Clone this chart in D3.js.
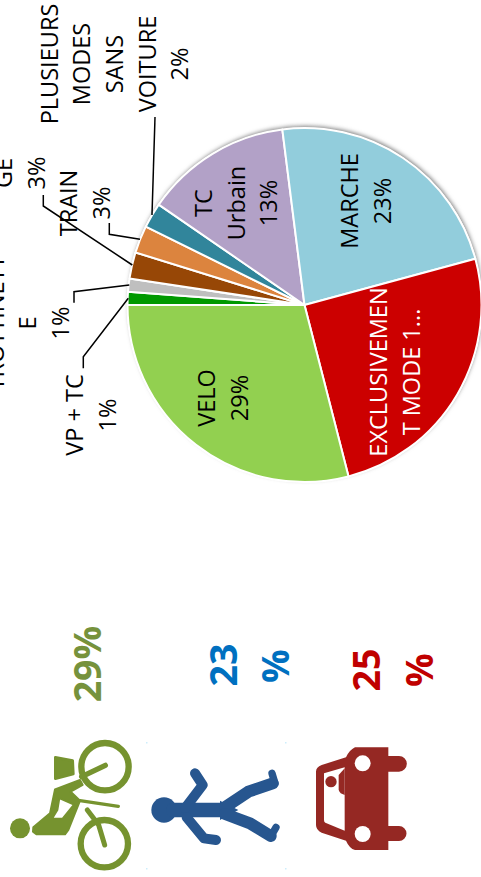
<!DOCTYPE html>
<html><head><meta charset="utf-8">
<script src="https://cdn.jsdelivr.net/npm/d3@7/dist/d3.min.js"></script>
<style>html,body{margin:0;padding:0;background:#fff;overflow:hidden}svg{display:block}</style>
</head><body><script>
const categories = ["VP + TC","TROTTINETTE","COVOITURAGE","TRAIN","PLUSIEURS MODES SANS VOITURE","TC Urbain","MARCHE","EXCLUSIVEMENT MODE 1...","VELO"];
const shares = [1.2,1.2,2.4,2.5,2.3,13.4,22.8,25.2,29];
const sliceColors = ["#009900","#bfbfbf","#974706","#dc843e","#31859b","#b2a1c7","#92cddc","#cc0000","#92d050"];
const labelLines = [["VP + TC","1%"],["TROTTINETT","E","1%"],["COVOITURA","GE","3%"],["TRAIN","3%"],["PLUSIEURS","MODES","SANS","VOITURE","2%"],["TC","Urbain","13%"],["MARCHE","23%"],["EXCLUSIVEMEN","T MODE 1..."],["VELO","29%"]];
const headlineParts = [["29%"],["23","%"],["25","%"]];
const headlineColors = ["#76923c","#0070c0","#c00000"];

// layout (not data)
const W=481,H=877,cx=304.5,cy=305,R=177;
const FS=23.5, LH=32.7;
const labelLayout=[[415,83.3],[323,3.5],[173,-20.5],[203,77.3],[64,57.5],[203,212],[201,358],[372,387.3],[398,215]];
const labelFill=["#000","#000","#000","#000","#000","#000","#000","#fff","#000"];
const leaders=[
 [[83.3,368.3],[83.3,356.7],[128.3,298.3]],
 [[74,302.7],[74,291.7],[129.3,285]],
 [[43.3,195],[43.3,206],[132.3,265]],
 [[109.3,223],[109.3,234.3],[140,239.3]],
 [[155,117],[152,215]]];
const headLayout=[[[664,101]],[[665,237],[666,289]],[[670,380],[670,433]]];

const svg=d3.select("body").append("svg").attr("width",W).attr("height",H);
const defs=svg.append("defs");
const f=defs.append("filter").attr("id","sh").attr("x","-10%").attr("y","-10%").attr("width","120%").attr("height","120%");
f.append("feDropShadow").attr("dx",2).attr("dy",1).attr("stdDeviation",2.2).attr("flood-color","#000").attr("flood-opacity",.5);

// rotated frame: page was turned 90 deg counter-clockwise
const root=svg.append("g").attr("transform",`translate(0,${H}) rotate(-90)`);
const toU=y=>H-y;

const pie=d3.pie().sort(null).value(d=>d)(shares);
const arc=d3.arc().innerRadius(0).outerRadius(R);
const pieG=root.append("g").attr("transform",`translate(${H-cy},${cx})`);
pieG.append("circle").attr("r",R).attr("fill","#fff").attr("filter","url(#sh)");
pieG.selectAll("path").data(pie).join("path")
  .attr("d",arc).attr("fill",(d,i)=>sliceColors[i])
  .attr("stroke","#fff").attr("stroke-width",2).attr("stroke-linejoin","round");

const font="'Open Sans',sans-serif";
root.append("g").selectAll("g").data(labelLines).join("g").each(function(lines,i){
  const [y,b]=labelLayout[i];
  d3.select(this).selectAll("text").data(lines).join("text")
    .attr("x",toU(y)).attr("y",(d,j)=>b+j*LH)
    .attr("text-anchor","middle").attr("font-family",font).attr("font-size",FS)
    .attr("fill",labelFill[i]).text(d=>d);
});

const lineGen=d3.line();
svg.append("g").selectAll("path").data(leaders).join("path")
  .attr("d",lineGen).attr("fill","none").attr("stroke","#000").attr("stroke-width",1.5);

root.append("g").selectAll("g").data(headlineParts).join("g").each(function(parts,i){
  d3.select(this).selectAll("text").data(parts).join("text")
    .attr("x",(d,j)=>toU(headLayout[i][j][0])).attr("y",(d,j)=>headLayout[i][j][1])
    .attr("text-anchor","middle").attr("font-family",font).attr("font-weight",700)
    .attr("font-size",37.5).attr("fill",headlineColors[i]).text(d=>d);
});

// icons: traced at 3x, drawn in page coordinates
function icon(ox,oy,color){return svg.append("g").attr("transform",`translate(${ox},${oy}) scale(${1/3})`).attr("fill",color).attr("stroke",color);}
const bike=icon(0,730,"#76932f");
bike.append("circle").attr("cx",315).attr("cy",110).attr("r",71).attr("fill","none").attr("stroke-width",19);
bike.append("circle").attr("cx",313).attr("cy",341).attr("r",71).attr("fill","none").attr("stroke-width",19);
bike.append("circle").attr("cx",60).attr("cy",295).attr("r",30).attr("stroke","none");
bike.append("path").attr("stroke-linejoin","round").attr("stroke-width",6).attr("fill-rule","evenodd")
 .attr("d","M100 292L150 250L165 178L240 150L248 165L212 185L240 212L205 300L195 313L110 313L99 305ZM178 204L222 224L188 266L156 266L172 240Z");
bike.append("path").attr("fill","none").attr("stroke-width",16).attr("stroke-linecap","round").attr("d","M245 140L316 106");
bike.append("path").attr("fill","none").attr("stroke-width",10).attr("stroke-linecap","round").attr("d","M240 212L355 229");
bike.append("path").attr("fill","none").attr("stroke-width",15).attr("stroke-linecap","round").attr("d","M262 240L296 285L314 345");
bike.append("path").attr("stroke-linejoin","round").attr("stroke-width",8).attr("d","M166 82L218 92L220 132L166 146Z");

const walker=icon(140,730,"#27568f");
walker.append("circle").attr("cx",72).attr("cy",240).attr("r",38).attr("stroke","none");
walker.append("path").attr("stroke","none").attr("d","M240 212L295 240L240 270Z");
const wp=(d,w)=>walker.append("path").attr("fill","none").attr("stroke-width",w).attr("stroke-linecap","round").attr("stroke-linejoin","round").attr("d",d);
wp("M100 240L260 240",44);
wp("M135 235L188 165L165 130",30);
wp("M140 262L192 325L228 330",30);
wp("M255 232L325 185L398 160",36);
wp("M255 252L330 280L392 318",36);
wp("M396 130L405 160",22);
wp("M408 292L392 320",22);
svg.append("g").attr("fill","#cdeefc").selectAll("rect")
  .data([[146,742],[146,868],[285,742],[285,868]]).join("rect")
  .attr("x",d=>d[0]).attr("y",d=>d[1]).attr("width",1.5).attr("height",1.5);

const car=icon(300,730,"#952823");
car.append("path").attr("stroke","none").attr("d","M165 52L265 52L265 78L297 78A23 23 0 0 1 297 125L265 125L265 288L297 288A22 22 0 0 1 297 333L265 333L265 360L165 360Q148 355 138 332L65 308Q48 300 48 285L48 125Q48 112 65 105L138 82Q148 60 165 52Z");
car.append("path").attr("fill","#fff").attr("stroke","none").attr("d","M72 130L134 112L134 302L76 278Q72 276 72 270Z");
car.append("path").attr("stroke","none").attr("d","M116 135L134 115L134 195L122 190Q116 185 116 178Z");
car.append("circle").attr("cx",93).attr("cy",155).attr("r",17).attr("stroke","none");
car.append("circle").attr("cx",188).attr("cy",100).attr("r",24).attr("fill","#fff").attr("stroke","none");
car.append("circle").attr("cx",188).attr("cy",312).attr("r",24).attr("fill","#fff").attr("stroke","none");
</script></body></html>
